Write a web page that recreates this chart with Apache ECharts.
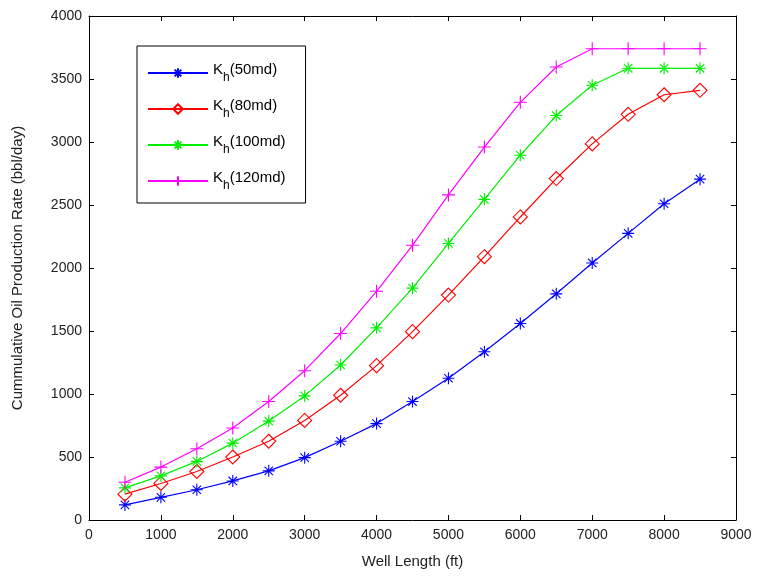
<!DOCTYPE html>
<html>
<head>
<meta charset="utf-8">
<script src="https://cdn.jsdelivr.net/npm/echarts@6/dist/echarts.min.js"></script>
<style>
  html, body { margin: 0; padding: 0; background: #fff; }
  #chart { width: 757px; height: 578px; }
</style>
</head>
<body>
<div id="chart"></div>
<script>
// Well length (ft)
const wellLength = [500, 1000, 1500, 2000, 2500, 3000, 3500, 4000, 4500, 5000, 5500, 6000, 6500, 7000, 7500, 8000, 8500];

// Cumulative oil production rate (bbl/day) for each horizontal permeability
const kh50 = [120, 180, 240, 310, 390, 495, 625, 765, 940, 1125, 1335, 1560, 1795, 2040, 2275, 2510, 2705];
const kh80 = [205, 290, 385, 500, 625, 790, 990, 1225, 1495, 1785, 2090, 2405, 2710, 2985, 3220, 3375, 3410];
const kh100 = [255, 350, 465, 610, 785, 985, 1230, 1525, 1840, 2195, 2545, 2895, 3210, 3450, 3585, 3585, 3585];
const kh120 = [300, 420, 565, 730, 940, 1185, 1480, 1815, 2180, 2580, 2960, 3315, 3595, 3740, 3740, 3740, 3740];

const seriesNames = ['Kh(50md)', 'Kh(80md)', 'Kh(100md)', 'Kh(120md)'];
const seriesLabels = ['(50md)', '(80md)', '(100md)', '(120md)'];

const FONT = '"Liberation Sans", Arial, sans-serif';
const ASTERISK = 'path://M0,-5 L0,5 M-5,0 L5,0 M-3.5,-3.5 L3.5,3.5 M-3.5,3.5 L3.5,-3.5';
const PLUS = 'path://M0,-5 L0,5 M-5,0 L5,0';

function pair(values) {
  return wellLength.map((x, i) => [x, values[i]]);
}

function makeSeries(name, values, color, symbol, size) {
  return {
    name: name,
    type: 'line',
    data: pair(values),
    symbol: symbol,
    symbolSize: size,
    showAllSymbol: true,
    lineStyle: { color: color, width: 1.2 },
    itemStyle: { color: 'rgba(0,0,0,0)', borderColor: color, borderWidth: 1.1 },
    emphasis: { disabled: true },
    animation: false,
    z: 3
  };
}

const axisCommon = {
  axisLine: { show: true, onZero: false, lineStyle: { color: '#000', width: 1 } },
  axisTick: { show: true, inside: true, length: 5, lineStyle: { color: '#000' } },
  splitLine: { show: false }
};

const plain = v => String(v);

const chart = echarts.init(document.getElementById('chart'), null, { renderer: 'canvas' });

chart.setOption({
  backgroundColor: '#fff',
  animation: false,
  textStyle: { fontFamily: FONT },
  grid: { left: 89, right: 21, top: 16, bottom: 58, show: false },
  legend: {
    data: seriesNames,
    orient: 'vertical',
    left: 137,
    top: 46,
    width: 169,
    padding: [16, 20, 11, 10],
    itemGap: 14,
    itemWidth: 60,
    itemHeight: 12,
    backgroundColor: '#fff',
    borderColor: '#000',
    borderWidth: 1,
    borderRadius: 0,
    formatter: function (name) {
      const i = seriesNames.indexOf(name);
      return '{k|K}{s|h}{k|' + seriesLabels[i] + '}';
    },
    textStyle: {
      color: '#000',
      fontFamily: FONT,
      rich: {
        k: { fontSize: 15, fontFamily: FONT, color: '#000', verticalAlign: 'top', lineHeight: 22 },
        s: { fontSize: 12, fontFamily: FONT, color: '#000', verticalAlign: 'bottom', lineHeight: 22, padding: [9, 0, 0, 0] }
      }
    }
  },
  xAxis: [
    Object.assign({
      type: 'value',
      min: 0,
      max: 9000,
      interval: 1000,
      position: 'bottom',
      name: 'Well Length (ft)',
      nameLocation: 'middle',
      nameGap: 34,
      nameTextStyle: { fontSize: 15, color: '#222', fontFamily: FONT },
      axisLabel: { fontSize: 14, color: '#222', margin: 8, fontFamily: FONT, formatter: plain }
    }, axisCommon),
    Object.assign({
      type: 'value',
      min: 0,
      max: 9000,
      interval: 1000,
      position: 'top',
      axisLabel: { show: false }
    }, axisCommon)
  ],
  yAxis: [
    Object.assign({
      type: 'value',
      min: 0,
      max: 4000,
      interval: 500,
      position: 'left',
      name: 'Cummulative Oil Production Rate (bbl/day)',
      nameLocation: 'middle',
      nameGap: 64,
      nameRotate: 90,
      nameTextStyle: { fontSize: 15, color: '#222', fontFamily: FONT },
      axisLabel: { fontSize: 14, color: '#222', margin: 7, fontFamily: FONT, formatter: plain }
    }, axisCommon),
    Object.assign({
      type: 'value',
      min: 0,
      max: 4000,
      interval: 500,
      position: 'right',
      axisLabel: { show: false }
    }, axisCommon)
  ],
  series: [
    makeSeries(seriesNames[0], kh50, '#0000ff', ASTERISK, 12),
    makeSeries(seriesNames[1], kh80, '#ff0000', 'diamond', 14),
    makeSeries(seriesNames[2], kh100, '#00ee00', ASTERISK, 12),
    makeSeries(seriesNames[3], kh120, '#ff00ff', PLUS, 13)
  ]
});
</script>
</body>
</html>
